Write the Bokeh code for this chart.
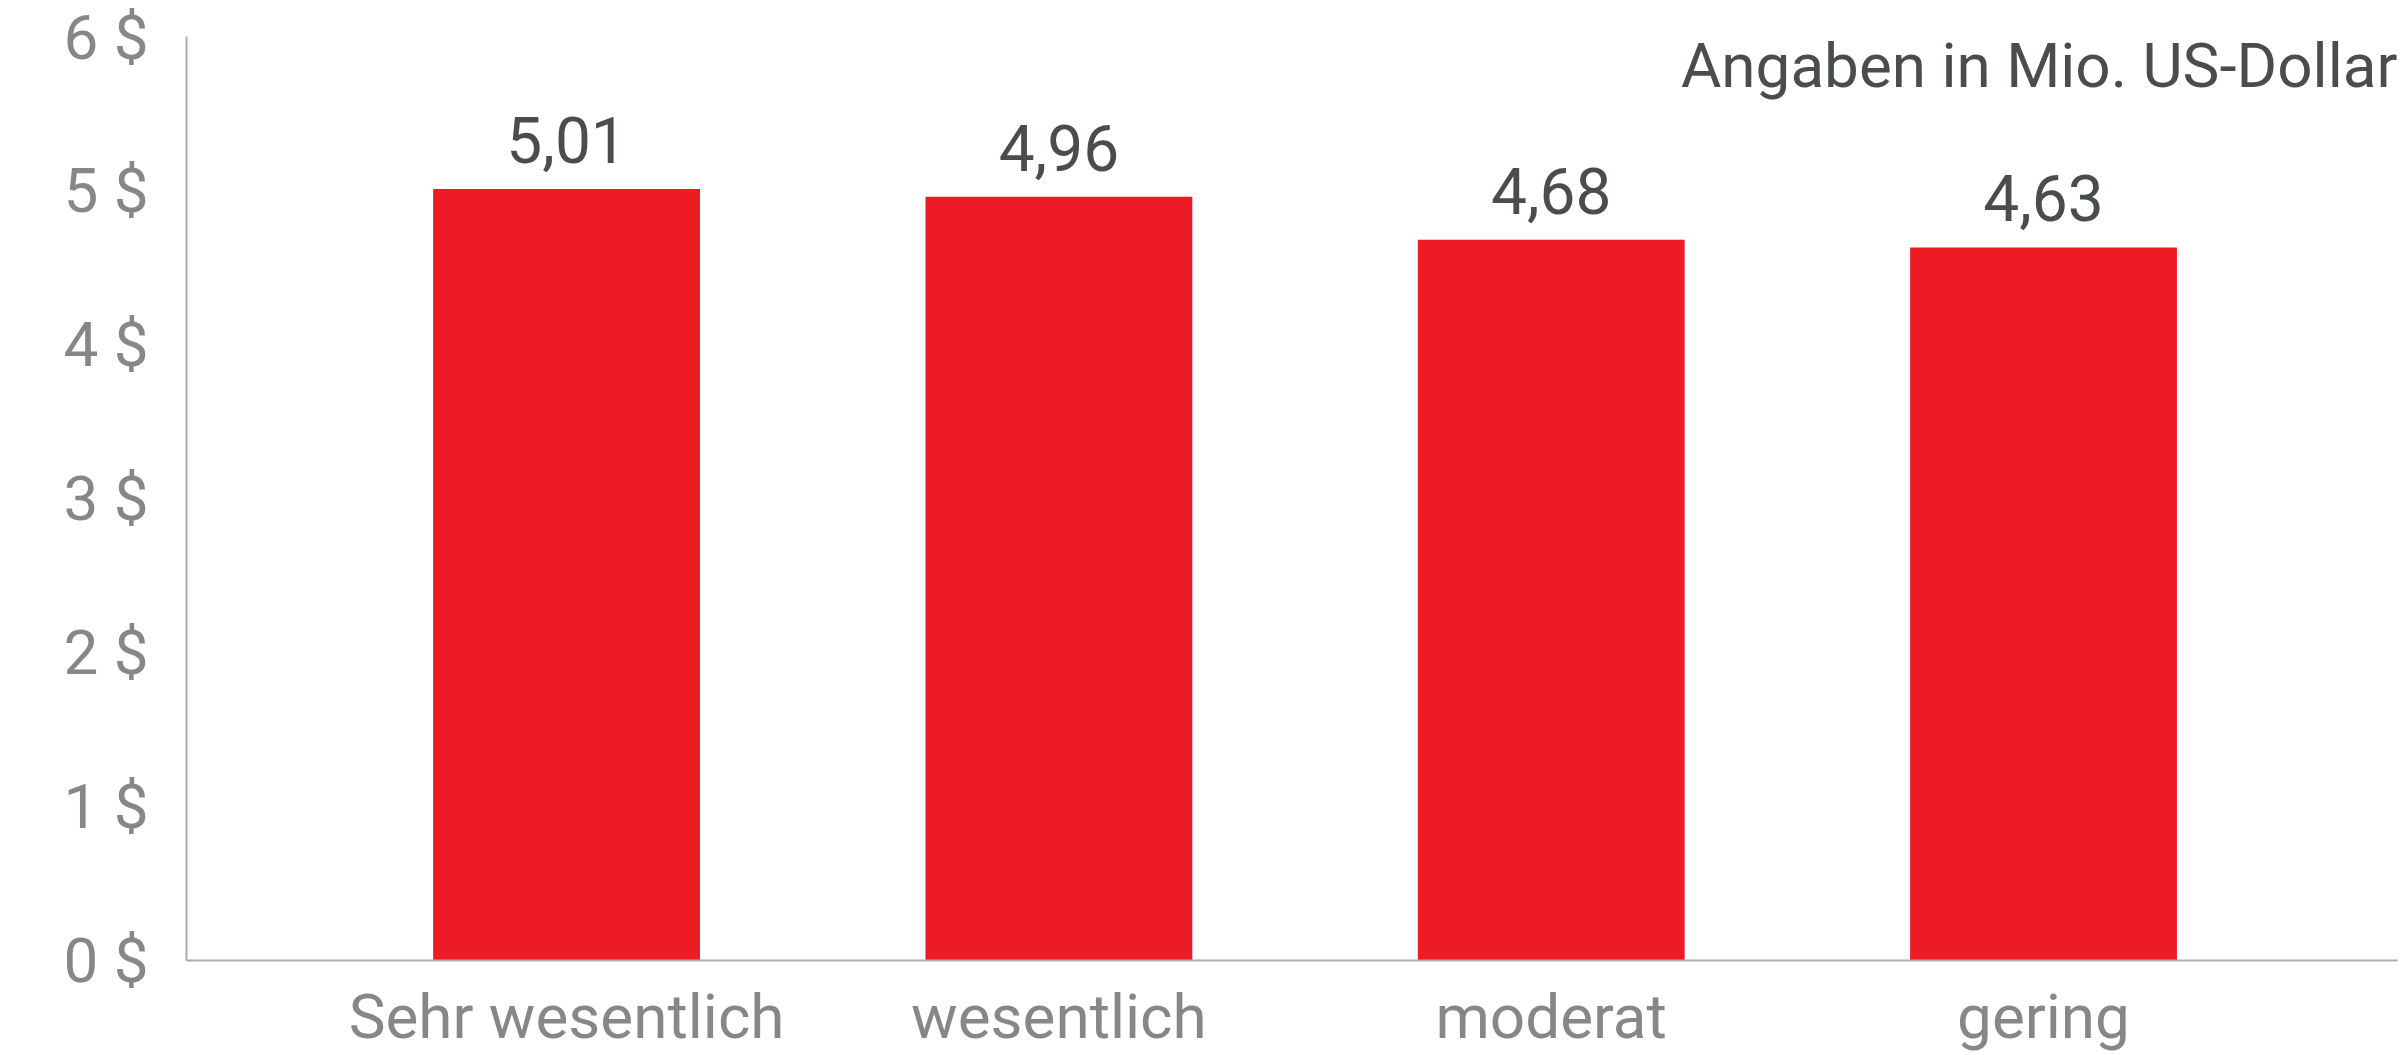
from bokeh.plotting import figure
from bokeh.models import ColumnDataSource, Range1d, FixedTicker, Label
from bokeh.embed import file_html
from bokeh.resources import INLINE

# ---- data ----
categories = ["Sehr wesentlich", "wesentlich", "moderat", "gering"]
values = [5.01, 4.96, 4.68, 4.63]
value_labels = ["5,01", "4,96", "4,68", "4,63"]
y_ticks = [0, 1, 2, 3, 4, 5, 6]
y_tick_labels = ["0 $", "1 $", "2 $", "3 $", "4 $", "5 $", "6 $"]
unit_note = "Angaben in Mio. US-Dollar"

FONT = "Roboto"
RED = "#ED1C24"
DARK = "#4A4D4E"
GREY = "#878787"
AXIS = "#B3ABA4"

positions = list(range(len(categories)))
src = ColumnDataSource(dict(x=positions, cat=categories, val=values, lab=value_labels))

p = figure(
    width=2406, height=1055,
    x_range=Range1d(-0.772, 3.719),
    y_range=Range1d(0, 6.0),
    output_backend="svg", toolbar_location=None,
    min_border_left=186, min_border_right=9, min_border_top=36, min_border_bottom=95,
)
p.background_fill_color = "white"
p.border_fill_color = "white"
p.outline_line_color = None
p.grid.grid_line_color = None

p.vbar(x="x", top="val", width=0.542, source=src, fill_color=RED, line_color=None)

p.text(x="x", y="val", text="lab", source=src, text_align="center",
       text_baseline="alphabetic", y_offset=-49, text_font_size="64px",
       text_color=DARK, text_font={"value": FONT})

# y axis
ya = p.yaxis[0]
ya.ticker = FixedTicker(ticks=y_ticks)
ya.major_label_overrides = {t: l for t, l in zip(y_ticks, y_tick_labels)}
ya.major_tick_line_color = None
ya.minor_tick_line_color = None
ya.axis_line_color = AXIS
ya.axis_line_width = 2
ya.major_label_text_font = FONT
ya.major_label_text_font_size = "62px"
ya.major_label_text_color = GREY
ya.major_label_standoff = 32

# x axis (categories)
xa = p.xaxis[0]
xa.ticker = FixedTicker(ticks=positions)
xa.major_label_overrides = {i: c for i, c in zip(positions, categories)}
xa.major_tick_line_color = None
xa.minor_tick_line_color = None
xa.axis_line_color = AXIS
xa.axis_line_width = 2
xa.major_label_text_font = FONT
xa.major_label_text_font_size = "62px"
xa.major_label_text_color = GREY
xa.major_label_standoff = 13

p.add_layout(Label(x=2211, y=895, x_units="screen", y_units="screen", text=unit_note,
                   text_align="right", text_baseline="alphabetic",
                   text_font=FONT, text_font_size="62px", text_color=DARK))

open("out.html", "w").write(file_html(p, INLINE))
